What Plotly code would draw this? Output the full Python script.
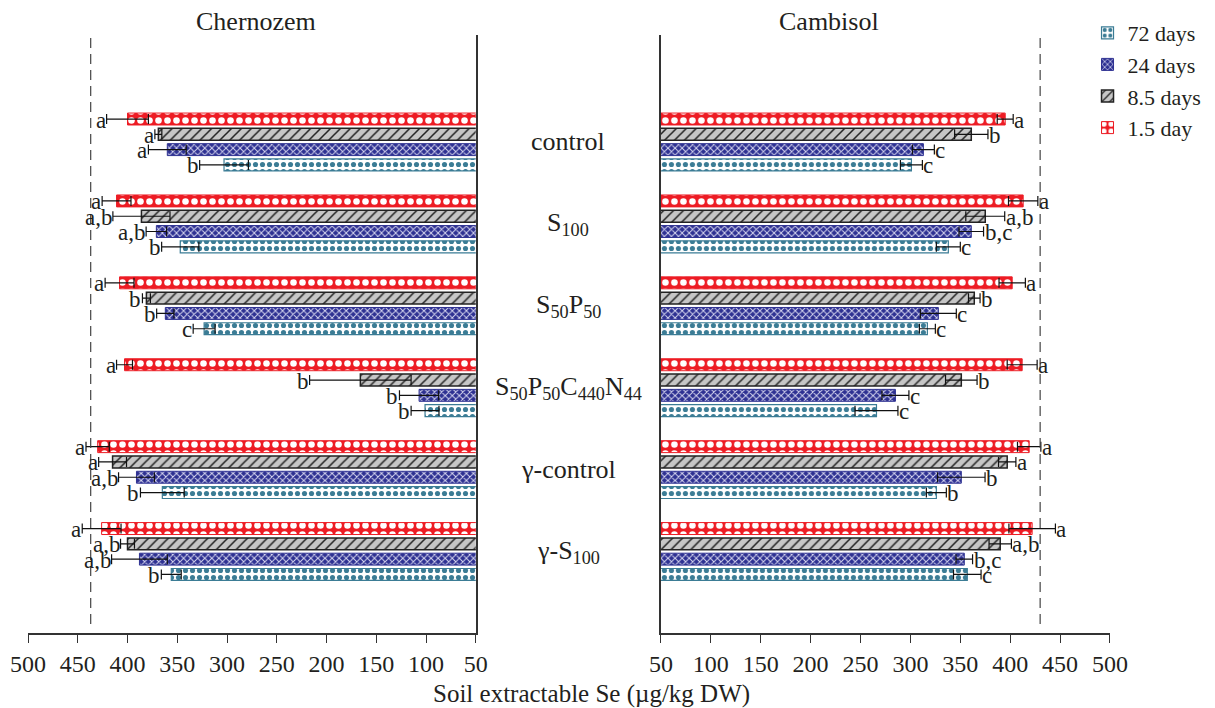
import plotly.graph_objects as go

# ---------------- data ----------------
categories = ["control", "S100", "S50P50", "S50P50C440N44", "γ-control", "γ-S100"]
category_labels = ["control", "S<sub>100</sub>", "S<sub>50</sub>P<sub>50</sub>",
                   "S<sub>50</sub>P<sub>50</sub>C<sub>440</sub>N<sub>44</sub>",
                   "γ-control", "γ-S<sub>100</sub>"]
series_names = ["1.5 day", "8.5 days", "24 days", "72 days"]

chern_values = {
    "1.5 day":  [400, 411, 408, 403, 430, 426],
    "8.5 days": [369, 386, 381, 166, 415, 400],
    "24 days":  [360, 371, 362, 107, 391, 388],
    "72 days":  [303, 347, 323, 101, 365, 356],
}
chern_errors = {
    "1.5 day":  [21, 14.5, 14.5, 8, 11.7, 19.5],
    "8.5 days": [3.5, 28.7, 4, 51, 14, 7],
    "24 days":  [19, 10.3, 8.7, 19.7, 18, 28],
    "72 days":  [24.5, 18.7, 11, 14, 22, 10],
}
chern_letters = {
    "1.5 day":  ["a", "a", "a", "a", "a", "a"],
    "8.5 days": ["a", "a,b", "b", "b", "a", "a,b"],
    "24 days":  ["a", "a,b", "b", "b", "a,b", "a,b"],
    "72 days":  ["b", "b", "c", "b", "b", "b"],
}

camb_values = {
    "1.5 day":  [395, 413, 402, 412, 419, 422],
    "8.5 days": [361, 375, 364, 351, 397, 390],
    "24 days":  [313, 361, 328, 285, 351, 354],
    "72 days":  [301, 338, 317, 266, 326, 357],
}
camb_errors = {
    "1.5 day":  [8, 14.7, 13.2, 15, 11.7, 23.3],
    "8.5 days": [16.7, 19.5, 5.8, 15.8, 8.7, 11.2],
    "24 days":  [11, 12.3, 18, 13.5, 23.8, 8.3],
    "72 days":  [11, 12, 8, 21.5, 10, 13.8],
}
camb_letters = {
    "1.5 day":  ["a", "a", "a", "a", "a", "a"],
    "8.5 days": ["b", "a,b", "b", "b", "a", "a,b"],
    "24 days":  ["c", "b,c", "c", "c", "b", "b,c"],
    "72 days":  ["c", "c", "c", "c", "b", "c"],
}

reference_lines = {"Chernozem": 437, "Cambisol": 430}
x_ticks = [500, 450, 400, 350, 300, 250, 200, 150, 100, 50]

# ---------------- styles ----------------
FONT = "Liberation Serif"
TXT = "#231f20"
styles = {
    "1.5 day":  dict(bg="#ed1c24", fg="white", shape=".", size=9, solidity=0.42, line="#ed1c24", lw=1),
    "8.5 days": dict(bg="#c6c6c6", fg="#222222", shape="/", size=7, solidity=0.22, line="#222222", lw=1.5),
    "24 days":  dict(bg="#2e3192", fg="#d8d8f0", shape="x", size=5, solidity=0.35, line="#2e3192", lw=1),
    "72 days":  dict(bg="white", fg="#3b7c95", shape=".", size=7, solidity=0.42, line="#3b7c95", lw=1.2),
}

# layout geometry in reference pixel coordinates (page body margin removed below)
W, H = 1215, 708
L_px, R_px, T_px, B_px = 27.5, 1110.5, 35, 633   # plot region
ml, mt = L_px, T_px
mr = W - R_px
mb = H - B_px
pw = W - ml - mr
ph = H - mt - mb

def px_x(p):
    return (p - L_px) / pw

def px_y(p):
    return (B_px - p) / ph

slot = 0.187  # category units per bar slot
y_range = [5.995, -1.306]

fig = go.Figure()

for panel, vals, errs, xa, ya in [("Chernozem", chern_values, chern_errors, "x", "y"),
                                  ("Cambisol", camb_values, camb_errors, "x2", "y2")]:
    for name in series_names:
        s = styles[name]
        fig.add_trace(go.Bar(
            name=name, y=categories, x=vals[name], orientation="h",
            xaxis=xa, yaxis=ya,
            showlegend=(panel == "Cambisol"),
            marker=dict(color=s["bg"],
                        line=dict(color=s["line"], width=s["lw"]),
                        pattern=dict(shape=s["shape"], fgcolor=s["fg"], bgcolor=s["bg"],
                                     size=s["size"], solidity=s["solidity"], fillmode="replace")),
            error_x=dict(type="data", array=errs[name], color="#111111", thickness=1.2, width=5),
        ))

annotations = []
# significance letters
for panel, vals, errs, lets, xr, yr, anchor in [
        ("Chernozem", chern_values, chern_errors, chern_letters, "x", "y", "right"),
        ("Cambisol", camb_values, camb_errors, camb_letters, "x2", "y2", "left")]:
    for k, name in enumerate(series_names):
        for i, cat in enumerate(categories):
            annotations.append(dict(
                x=vals[name][i] + errs[name][i], y=i + (k - 1.5) * slot,
                xref=xr, yref=yr, text=lets[name][i], showarrow=False,
                xanchor=anchor, yanchor="middle", yshift=-1,
                xshift=(1 if anchor == "right" else -1),
                font=dict(family=FONT, size=23, color=TXT)))

# category labels in the middle
for i, lab in enumerate(category_labels):
    annotations.append(dict(x=px_x(568), y=i, xref="paper", yref="y", text=lab,
                            showarrow=False, xanchor="center", yanchor="middle",
                            font=dict(family=FONT, size=26, color=TXT)))

# panel titles
annotations.append(dict(x=px_x(256), y=px_y(22), xref="paper", yref="paper", text="Chernozem",
                        showarrow=False, xanchor="center", yanchor="middle",
                        font=dict(family=FONT, size=26, color=TXT)))
annotations.append(dict(x=px_x(829), y=px_y(22), xref="paper", yref="paper", text="Cambisol",
                        showarrow=False, xanchor="center", yanchor="middle",
                        font=dict(family=FONT, size=26, color=TXT)))
# x-axis title
annotations.append(dict(x=px_x(592), y=px_y(694), xref="paper", yref="paper",
                        text="Soil extractable Se (µg/kg DW)", xanchor="center", yanchor="middle",
                        showarrow=False, font=dict(family=FONT, size=25, color=TXT)))

shapes = [
    dict(type="line", xref="x", yref="paper", x0=reference_lines["Chernozem"], x1=reference_lines["Chernozem"],
         y0=px_y(624), y1=1, line=dict(color="#444444", width=1.2, dash="10px,6px")),
    dict(type="line", xref="x2", yref="paper", x0=reference_lines["Cambisol"], x1=reference_lines["Cambisol"],
         y0=px_y(624), y1=1, line=dict(color="#444444", width=1.2, dash="10px,6px")),
]

axis_common = dict(showgrid=False, zeroline=False, showline=True, linecolor="#333333", linewidth=1.5,
                   ticks="outside", ticklen=8, tickwidth=1.2, tickcolor="#333333",
                   tickvals=x_ticks, tickfont=dict(family=FONT, size=24, color=TXT))

fig.update_layout(
    width=W, height=H,
    margin=dict(l=ml, r=mr, t=mt, b=mb, autoexpand=False),
    paper_bgcolor="white", plot_bgcolor="white",
    barmode="group", bargap=0.253, bargroupgap=0.22,
    xaxis=dict(domain=[0, px_x(475.7)], range=[500, 50], anchor="y", **axis_common),
    xaxis2=dict(domain=[px_x(661), 1], range=[50, 500], anchor="y2", **axis_common),
    yaxis=dict(domain=[0, 1], range=y_range, anchor="x", side="right", showticklabels=False,
               ticks="", showline=True, linecolor="#333333", linewidth=1.5, showgrid=False,
               zeroline=False, type="category"),
    yaxis2=dict(domain=[0, 1], range=y_range, anchor="x2", side="left", showticklabels=False,
                ticks="", showline=True, linecolor="#333333", linewidth=1.5, showgrid=False,
                zeroline=False, type="category"),
    legend=dict(x=px_x(1088), y=px_y(12), xanchor="left", yanchor="top",
                traceorder="reversed", font=dict(family=FONT, size=22, color=TXT),
                bgcolor="rgba(0,0,0,0)", itemwidth=30, tracegroupgap=0),
    annotations=annotations,
    shapes=shapes,
    font=dict(family=FONT, color=TXT),
)

fig.write_html("out.html", config={"displayModeBar": False},
               post_script="document.body.style.margin='0px';document.body.style.overflow='hidden';")
